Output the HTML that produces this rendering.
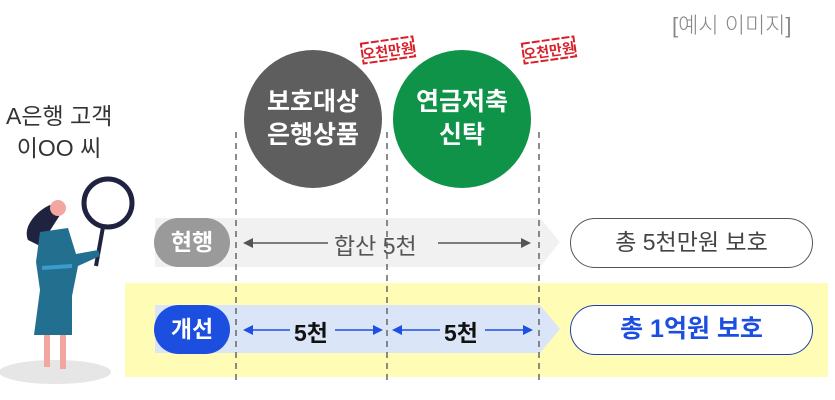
<!DOCTYPE html>
<html><head><meta charset="utf-8"><style>
body{margin:0;width:835px;height:400px;background:#fff;overflow:hidden;position:relative;font-family:"Liberation Sans","Noto Sans CJK KR",sans-serif}
.a{position:absolute}
.t{position:absolute;white-space:nowrap}
</style></head><body>
<div class="t" style="left:672px;top:8px;font-size:22px;color:#888;font-weight:300">[예시 이미지]</div>
<div class="t" style="left:6px;top:100px;font-size:23px;color:#333;line-height:32px;text-align:center;width:106px">A은행 고객<br>이OO 씨</div>

<div class="a" style="left:125px;top:283px;width:703px;height:94px;background:#fffcb5"></div>
<svg class="a" style="left:0;top:0" width="835" height="400">
<polygon points="155,218 540,218 560,242 540,267 155,267" fill="#f1f1f1"/>
<polygon points="155,305 540,305 560,329 540,353 155,353" fill="#dbe5f8"/>
<circle cx="313" cy="119" r="69" fill="#5e5e5e"/>
<circle cx="462" cy="119" r="69" fill="#0f9348"/>
<g stroke="#666" stroke-width="1.5" stroke-dasharray="6,5">
<line x1="236" y1="132" x2="236" y2="382"/>
<line x1="387" y1="132" x2="387" y2="382"/>
<line x1="539" y1="132" x2="539" y2="382"/>
</g>
<g stroke="#555" stroke-width="1.5" fill="#555">
<line x1="250" y1="243" x2="328" y2="243"/><polygon points="243,243 253,238 253,248" stroke="none"/>
<line x1="438" y1="243" x2="524" y2="243"/><polygon points="531,243 521,238 521,248" stroke="none"/>
</g>
<g stroke="#1d4fe0" stroke-width="1.5" fill="#1d4fe0">
<line x1="250" y1="330" x2="290" y2="330"/><polygon points="243,330 253,325 253,335" stroke="none"/>
<line x1="335" y1="330" x2="376" y2="330"/><polygon points="383,330 373,325 373,335" stroke="none"/>
<line x1="400" y1="330" x2="440" y2="330"/><polygon points="392,330 402,325 402,335" stroke="none"/>
<line x1="485" y1="330" x2="526" y2="330"/><polygon points="533,330 523,325 523,335" stroke="none"/>
</g>
<ellipse cx="55" cy="372" rx="56" ry="12" fill="#e6e6e6"/>
<circle cx="108" cy="203" r="24" fill="none" stroke="#1f2340" stroke-width="5"/>
<line x1="103" y1="227" x2="96" y2="266" stroke="#1f2340" stroke-width="4"/>
<path d="M50,205 C38,210 22,226 28,240 L40,246 L62,212 Z" fill="#1f2340"/>
<circle cx="58" cy="208" r="8" fill="#f3a6a0"/>
<path d="M40,232 L68,228 L76,254 L98,250 L100,256 L78,266 L72,296 L72,335 L34,335 L40,290 L36,262 Z" fill="#226f8f"/>
<line x1="42" y1="268" x2="72" y2="266" stroke="#3b9ccd" stroke-width="4"/>
<rect x="44" y="335" width="6" height="32" fill="#f3a6a0"/>
<rect x="60" y="335" width="6" height="34" fill="#f3a6a0"/>
<g transform="rotate(-8 388 50)"><rect x="362" y="40" width="52" height="20" fill="#fff" stroke="#d8202a" stroke-width="2" stroke-dasharray="8,2"/><text x="388" y="56" font-size="14" font-weight="bold" fill="#d8202a" text-anchor="middle" font-family="Liberation Sans, Noto Sans CJK KR, sans-serif">오천만원</text></g>
<g transform="rotate(-8 549 50)"><rect x="523" y="40" width="52" height="20" fill="#fff" stroke="#d8202a" stroke-width="2" stroke-dasharray="8,2"/><text x="549" y="56" font-size="14" font-weight="bold" fill="#d8202a" text-anchor="middle" font-family="Liberation Sans, Noto Sans CJK KR, sans-serif">오천만원</text></g>
</svg>

<div class="t" style="left:244px;top:86px;width:138px;text-align:center;color:#fff;font-size:25px;font-weight:bold;line-height:33px">보호대상<br>은행상품</div>
<div class="t" style="left:393px;top:86px;width:138px;text-align:center;color:#fff;font-size:25px;font-weight:bold;line-height:33px">연금저축<br>신탁</div>

<div class="a" style="left:154px;top:218px;width:76px;height:49px;border-radius:25px;background:#9a9a9a;color:#fff;font-size:23px;font-weight:bold;text-align:center;line-height:49px">현행</div>
<div class="a" style="left:154px;top:305px;width:76px;height:49px;border-radius:25px;background:#1c4fe0;color:#fff;font-size:23px;font-weight:bold;text-align:center;line-height:49px">개선</div>

<div class="t" style="left:334px;top:227px;font-size:23px;color:#555">합산 5천</div>
<div class="t" style="left:294px;top:314px;font-size:23px;color:#111;font-weight:bold">5천</div>
<div class="t" style="left:444px;top:314px;font-size:23px;color:#111;font-weight:bold">5천</div>

<div class="a" style="left:570px;top:218px;width:241px;height:48px;border:1.5px solid #555;border-radius:25px;background:#fff;text-align:center;line-height:46px;font-size:23px;color:#444">총 5천만원 보호</div>
<div class="a" style="left:570px;top:305px;width:241px;height:48px;border:1.5px solid #1e40a8;border-radius:25px;background:#fff;text-align:center;line-height:46px;font-size:25px;color:#1c4fe0;font-weight:bold">총 1억원 보호</div>
</body></html>
